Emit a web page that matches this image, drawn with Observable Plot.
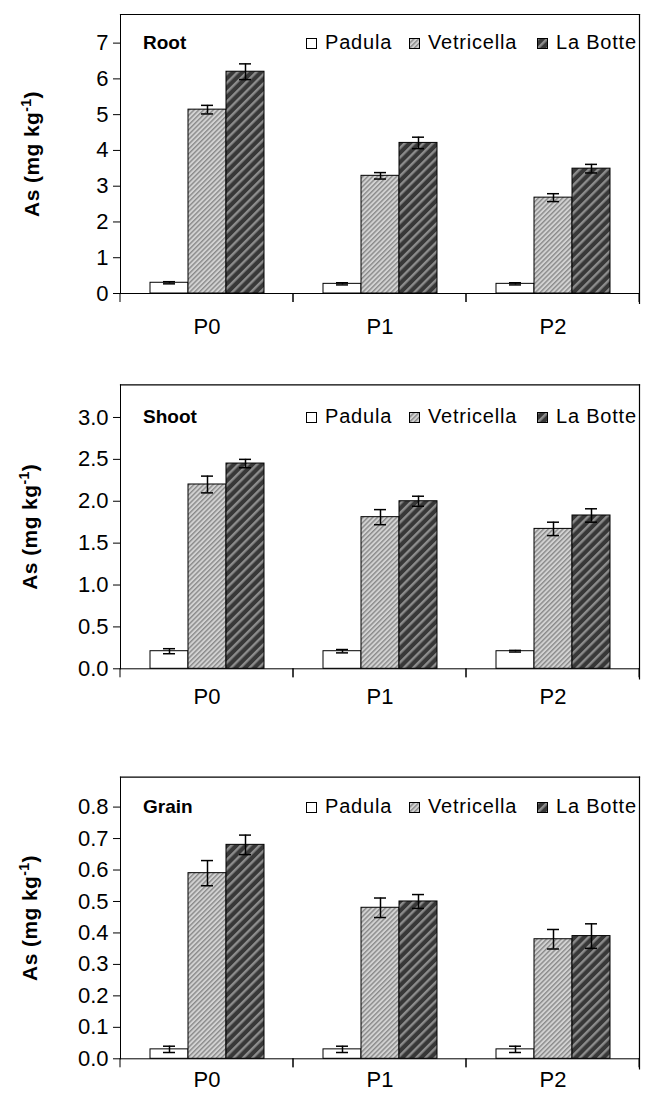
<!DOCTYPE html>
<html>
<head>
<meta charset="utf-8">
<script src="https://cdn.jsdelivr.net/npm/d3@7"></script>
<script src="https://cdn.jsdelivr.net/npm/@observablehq/plot@0.6"></script>
<style>
  body { margin: 0; background: #fff; font-family: 'Liberation Sans', Arial, sans-serif; }
  #chart { position: relative; width: 649px; height: 1095px; overflow: hidden; background: #fff; }
  .panel { position: absolute; left: 0; width: 649px; height: 365px; }
  .panel svg.plot { position: absolute; left: 0; top: 0; overflow: visible; }
  .ptitle { position: absolute; font-weight: bold; font-size: 19px; line-height: 20px; color: #000; white-space: nowrap; }
  .ltext { position: absolute; font-size: 20px; line-height: 20px; letter-spacing: 0.8px; color: #000; white-space: nowrap; }
  .lswatch { position: absolute; width: 11px; height: 11px; }
</style>
</head>
<body>
<svg width="0" height="0" style="position:absolute">
  <defs>
    <pattern id="pVet" patternUnits="userSpaceOnUse" width="3.4" height="3.4" patternTransform="rotate(45)">
      <rect width="3.4" height="3.4" fill="#d2d2d2"></rect>
      <rect width="1.4" height="3.4" fill="#8a8a8a"></rect>
    </pattern>
    <pattern id="pLab" patternUnits="userSpaceOnUse" width="6.6" height="6.6" patternTransform="rotate(45)">
      <rect width="6.6" height="6.6" fill="#383838"></rect>
      <rect width="2.4" height="6.6" fill="#8c8c8c"></rect>
    </pattern>
  </defs>
</svg>
<div id="chart"></div>
<script>
// ---- data ----
const categories = ["P0", "P1", "P2"];
const cultivars = ["Padula", "Vetricella", "La Botte"];
const panelNames = ["Root", "Shoot", "Grain"];

// rows: Padula, Vetricella, La Botte ; columns: P0, P1, P2
const rootMeans = [[0.30, 0.27, 0.27], [5.14, 3.29, 2.68], [6.20, 4.21, 3.49]];
const rootErrors = [[0.03, 0.03, 0.03], [0.12, 0.09, 0.11], [0.22, 0.16, 0.12]];
const shootMeans = [[0.21, 0.21, 0.21], [2.20, 1.81, 1.67], [2.45, 2.00, 1.83]];
const shootErrors = [[0.03, 0.02, 0.01], [0.10, 0.09, 0.08], [0.05, 0.06, 0.08]];
const grainMeans = [[0.03, 0.03, 0.03], [0.59, 0.48, 0.38], [0.68, 0.50, 0.39]];
const grainErrors = [[0.01, 0.01, 0.01], [0.04, 0.031, 0.031], [0.031, 0.022, 0.039]];

const rootTicks = [0, 1, 2, 3, 4, 5, 6, 7];
const shootTicks = [0, 0.5, 1.0, 1.5, 2.0, 2.5, 3.0];
const grainTicks = [0, 0.1, 0.2, 0.3, 0.4, 0.5, 0.6, 0.7, 0.8];
const yLabel = "As (mg kg-1)";

// ---- helpers ----
function rows(means, errors) {
  const out = [];
  cultivars.forEach((c, i) => categories.forEach((cat, j) => {
    out.push({category: cat, cultivar: c, value: means[i][j], err: errors[i][j]});
  }));
  return out;
}

function boundaryTicks(index, scales) {
  const g = d3.create("svg:g").attr("aria-label", "category-boundaries");
  const xs = scales.x.range();
  const y0 = scales.y(0);
  for (const x of xs) {
    g.append("line").attr("x1", x).attr("x2", x).attr("y1", y0).attr("y2", y0 + 9)
      .attr("stroke", "black").attr("stroke-width", 1);
  }
  return g.node();
}

function makePanel(cfg) {
  const data = rows(cfg.means, cfg.errors);
  const plot = Plot.plot({
    width: 649,
    height: 365,
    marginLeft: 120,
    marginRight: 2,
    marginTop: cfg.mTop,
    marginBottom: cfg.mBottom,
    style: {fontFamily: "'Liberation Sans', Arial, sans-serif", fontSize: "22px", color: "black", background: "transparent", overflow: "visible"},
    fx: {domain: categories, paddingInner: 0, paddingOuter: 0.0205, align: 0, axis: "bottom", tickSize: 0, tickPadding: cfg.fxPad, label: null},
    x: {domain: cultivars, paddingInner: 0, paddingOuter: 0.74, axis: null},
    y: {domain: [0, cfg.yMax], ticks: cfg.ticks, tickFormat: cfg.fmt, tickSize: 7, tickPadding: 5, line: true,
        label: yLabel, labelAnchor: "center", labelOffset: cfg.labelOffset, labelArrow: "none"},
    color: {domain: cultivars, range: ["white", "url(#pVet)", "url(#pLab)"]},
    marks: [
      Plot.barY(data, {fx: "category", x: "cultivar", y: "value", fill: "cultivar", stroke: "black", strokeWidth: 1}),
      Plot.ruleX(data, {fx: "category", x: "cultivar", y1: d => d.value - d.err, y2: d => d.value + d.err, stroke: "black", strokeWidth: 1.5}),
      Plot.tickY(data, {fx: "category", x: "cultivar", y: d => d.value + d.err, insetLeft: 13, insetRight: 13, stroke: "black", strokeWidth: 1.5}),
      Plot.tickY(data, {fx: "category", x: "cultivar", y: d => d.value - d.err, insetLeft: 13, insetRight: 13, stroke: "black", strokeWidth: 1.5}),
      Plot.ruleY([0], {stroke: "black", strokeWidth: 1}),
      Plot.frame({facet: "super", anchor: "top", stroke: "black", strokeWidth: 1.2}),
      Plot.frame({facet: "super", anchor: "right", stroke: "black", strokeWidth: 1.2, insetBottom: -10}),
      boundaryTicks
    ]
  });
  plot.classList.add("plot");
  // bold y label with superscript
  plot.querySelectorAll("text").forEach(t => {
    if (t.textContent.includes("kg")) {
      t.setAttribute("font-weight", "bold");
      t.setAttribute("font-size", "21px");
      t.style.letterSpacing = "0.4px";
      const ns = "http://www.w3.org/2000/svg";
      while (t.firstChild) t.removeChild(t.firstChild);
      const a = document.createElementNS(ns, "tspan"); a.textContent = "As (mg kg";
      const b = document.createElementNS(ns, "tspan"); b.textContent = "-1";
      b.setAttribute("baseline-shift", "super"); b.setAttribute("font-size", "14px");
      const c = document.createElementNS(ns, "tspan"); c.textContent = ")";
      t.appendChild(a); t.appendChild(b); t.appendChild(c);
    }
  });
  return plot;
}

const panels = [
  {name: panelNames[0], means: rootMeans, errors: rootErrors, yMax: 7.8, ticks: rootTicks, fmt: d3.format("d"),
   top: 0, mTop: 14, mBottom: 72, fxPad: 25, labelOffset: 96, baseline: 49},
  {name: panelNames[1], means: shootMeans, errors: shootErrors, yMax: 3.39, ticks: shootTicks, fmt: d3.format(".1f"),
   top: 365, mTop: 19.3, mBottom: 61.7, fxPad: 20, labelOffset: 98, baseline: 58},
  {name: panelNames[2], means: grainMeans, errors: grainErrors, yMax: 0.895, ticks: grainTicks, fmt: d3.format(".1f"),
   top: 730, mTop: 46.7, mBottom: 36.7, fxPad: 13, labelOffset: 98, baseline: 83}
];

const swatchFill = {"Padula": "white", "Vetricella": "url(#pVet)", "La Botte": "url(#pLab)"};
const legendLeft = [306, 409, 537];

const chart = document.getElementById("chart");
for (const cfg of panels) {
  const div = document.createElement("div");
  div.className = "panel";
  div.style.top = cfg.top + "px";
  div.appendChild(makePanel(cfg));
  const title = document.createElement("div");
  title.className = "ptitle";
  title.textContent = cfg.name;
  title.style.left = "143px";
  title.style.top = (cfg.baseline - 16) + "px";
  div.appendChild(title);
  cultivars.forEach((c, i) => {
    const sw = document.createElementNS("http://www.w3.org/2000/svg", "svg");
    sw.setAttribute("class", "lswatch");
    sw.setAttribute("width", 11); sw.setAttribute("height", 11);
    sw.style.left = legendLeft[i] + "px";
    sw.style.top = (cfg.baseline - 11) + "px";
    const r = document.createElementNS("http://www.w3.org/2000/svg", "rect");
    r.setAttribute("x", 0.5); r.setAttribute("y", 0.5); r.setAttribute("width", 10); r.setAttribute("height", 10);
    r.setAttribute("fill", swatchFill[c]); r.setAttribute("stroke", "black"); r.setAttribute("stroke-width", 1);
    sw.appendChild(r);
    div.appendChild(sw);
    const tx = document.createElement("div");
    tx.className = "ltext";
    tx.textContent = c;
    tx.style.left = (legendLeft[i] + 19) + "px";
    tx.style.top = (cfg.baseline - 17) + "px";
    div.appendChild(tx);
  });
  chart.appendChild(div);
}
</script>
</body>
</html>
